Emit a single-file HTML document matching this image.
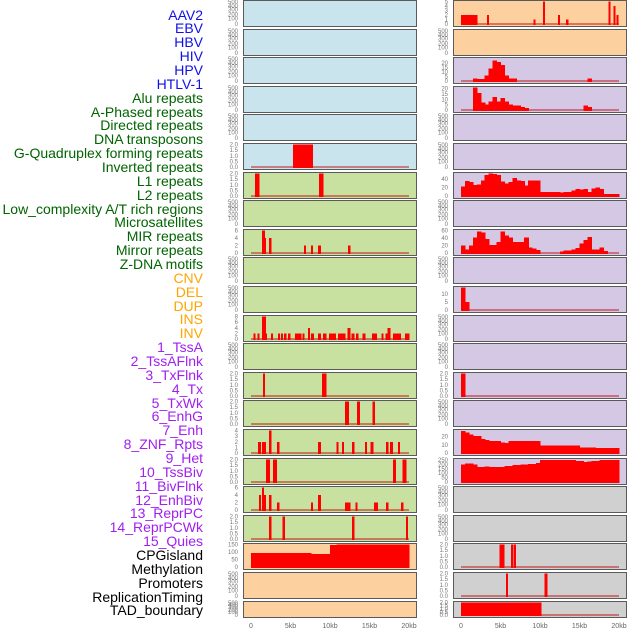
<!DOCTYPE html>
<html><head><meta charset="utf-8">
<style>
html,body{margin:0;padding:0;background:#fff;}
#wrap{position:relative;width:630px;height:630px;overflow:hidden;}
.lab{position:absolute;right:427px;font-family:"Liberation Sans",sans-serif;font-size:14px;line-height:14px;white-space:nowrap;}
svg{position:absolute;left:0;top:0;}
</style></head>
<body>
<div id="wrap">
<svg id="svg" width="630" height="630"></svg>
</div>
<script>
const trackLabels=["AAV2","EBV","HBV","HIV","HPV","HTLV-1","Alu repeats","A-Phased repeats","Directed repeats","DNA transposons","G-Quadruplex forming repeats","Inverted repeats","L1 repeats","L2 repeats","Low_complexity A/T rich regions","Microsatellites","MIR repeats","Mirror repeats","Z-DNA motifs","CNV","DEL","DUP","INS","INV","1_TssA","2_TssAFlnk","3_TxFlnk","4_Tx","5_TxWk","6_EnhG","7_Enh","8_ZNF_Rpts","9_Het","10_TssBiv","11_BivFlnk","12_EnhBiv","13_ReprPC","14_ReprPCWk","15_Quies","CPGisland","Methylation","Promoters","ReplicationTiming","TAD_boundary"];
const xTickLabels=["0","5kb","10kb","15kb","20kb"];
const xTickValues=[0,5,10,15,20];
const emptyTicks=[0,100,200,300,400,500];
const ticks2=[0,0.5,1,1.5,2];
const segHTLV1=[[5.3,7.8,2]];
const segAlu=[[0.5,1.0,2],[8.6,9.1,2]];
const segLowComplexity=[[1.4,1.7,6],[1.7,1.8,4],[2.3,2.5,4],[6.7,6.9,2],[7.6,7.8,2],[8.5,8.8,2],[12.3,12.5,2]];
const segL1=[[0.3,0.5,2],[0.8,1.0,2],[1.4,1.8,8],[1.8,1.9,2],[2.5,2.7,2],[3.4,3.6,2],[3.8,4.0,2],[4.2,4.4,2],[4.7,4.9,2],[5.6,6.3,2],[6.5,6.7,2],[7.2,7.4,4],[7.6,7.9,2],[8.5,8.8,2],[9.1,9.5,2],[9.9,10.7,2],[11.0,11.9,2],[12.2,12.5,4],[12.7,13.0,2],[13.3,13.5,2],[14.1,14.4,2],[15.3,15.9,2],[16.5,16.7,2],[17.0,17.3,2],[17.3,17.6,4],[18.0,18.9,2],[19.5,20.0,2]];
const segMicro=[[1.5,1.7,2],[9.0,9.5,2]];
const segMIR=[[11.9,12.3,2],[13.4,13.7,2],[15.4,15.6,2]];
const segMirror=[[0.9,1.2,2],[1.4,1.8,2],[2.3,2.5,4],[3.3,3.5,2],[8.5,8.8,2],[10.8,11.0,2],[11.5,11.7,2],[12.8,13.0,2],[14.4,14.6,2],[15.1,15.4,2],[17.1,17.3,2],[17.6,17.9,2],[18.6,18.8,2]];
const segZDNA=[[1.9,2.3,2],[2.8,3.2,2],[18.0,18.3,2],[19.2,19.6,2]];
const segCNV=[[1.0,1.2,4],[1.4,1.6,6],[1.6,1.8,4],[2.3,2.5,4],[3.3,3.5,2],[7.6,7.8,2],[8.5,8.8,4],[11.9,12.5,2],[13.2,13.4,2],[15.6,16.0,2],[17.1,17.3,2],[19.0,19.2,2]];
const segDEL=[[2.3,2.5,2],[4.0,4.2,2],[12.8,13.0,2],[19.6,19.8,2]];
const segDUP=[[0,7.6,95],[7.6,10.0,86],[10.0,10.8,148],[10.8,20.0,150]];
const segINS=[[0,2.0,2],[3.3,3.4,2],[9.2,9.3,1],[10.4,10.5,5],[12.3,12.4,2],[13.3,13.5,1],[18.7,18.8,5],[19.3,19.4,4],[19.7,19.8,2]];
const segBivFlnk=[[0,0.5,2]];
const segPromoters=[[4.85,5.4,2],[6.35,6.55,2],[6.7,6.9,2]];
const segRepTiming=[[5.7,5.9,2],[10.6,10.85,2]];
const segTAD=[[0,10.1,2]];
const binTssA=[0,0,0,3,2,2,6,14,23,21,18,6,3,3,0,0,0,0,0,0,0,0,0,0,0,0,0,0,0,0,0,0,3,0,0,0,0,0,0,0];
const binTssAFlnk=[0,0,0,21,16,7,5,8,12,8,11,8,5,4,4,3,2,0,0,0,0,0,0,0,0,0,0,0,0,0,0,4,3,0,0,0,0,0,0,0];
const binTxWk=[22,35,33,26,27,36,50,53,52,50,34,30,33,42,36,35,25,37,37,37,10,10,10,10,10,8,9,10,13,16,15,17,9,18,20,16,5,5,5,5];
const binEnh=[20,9,20,42,57,55,38,21,22,30,58,47,42,29,30,30,42,15,12,8,0,0,0,0,0,4,7,7,9,14,25,35,43,10,9,15,5,0,0,0];
const binHet=[14,5,0,0,0,0,0,0,0,0,0,0,0,0,0,0,0,0,0,0,0,0,0,0,0,0,0,0,0,0,0,0,0,0,0,0,0,0,0,0];
const binReprPCWk=[27,25,23,21,21,17,16,15,15,15,13,12,15,15,15,15,15,15,15,15,9,9,9,9,9,9,9,9,9,9,7,7,7,7,6,6,6,6,6,6];
const binQuies=[200,210,210,200,168,172,174,170,170,170,170,180,180,190,195,200,200,205,205,215,250,250,250,250,250,250,250,250,250,240,238,228,230,240,240,250,250,250,250,250];

const C={blue:"#c9e4ec",green:"#c8e0a0",peach:"#fdd0a0",lav:"#d5c8e4",grey:"#d0d0d0"};
const left=[
 {bg:C.blue},{bg:C.blue},{bg:C.blue},{bg:C.blue},{bg:C.blue},
 {bg:C.blue,seg:segHTLV1,max:2,ticks:ticks2},
 {bg:C.green,seg:segAlu,max:2,ticks:ticks2},
 {bg:C.green},
 {bg:C.green,seg:segLowComplexity,max:6,ticks:[0,2,4,6]},
 {bg:C.green},{bg:C.green},
 {bg:C.green,seg:segL1,max:8,ticks:[0,2,4,6,8]},
 {bg:C.green},
 {bg:C.green,seg:segMicro,max:2,ticks:ticks2},
 {bg:C.green,seg:segMIR,max:2,ticks:ticks2},
 {bg:C.green,seg:segMirror,max:4,ticks:[0,1,2,3,4]},
 {bg:C.green,seg:segZDNA,max:2,ticks:ticks2},
 {bg:C.green,seg:segCNV,max:6,ticks:[0,2,4,6]},
 {bg:C.green,seg:segDEL,max:2,ticks:ticks2},
 {bg:C.peach,seg:segDUP,max:150,ticks:[0,50,100,150]},
 {bg:C.peach},{bg:C.peach,h:16}
];
const right=[
 {bg:C.peach,seg:segINS,max:5,ticks:[0,1,2,3,4,5]},
 {bg:C.peach},
 {bg:C.lav,bin:binTssA,max:25,ticks:[0,5,10,15,20]},
 {bg:C.lav,bin:binTssAFlnk,max:21,ticks:[0,5,10,15,20]},
 {bg:C.lav},{bg:C.lav},
 {bg:C.lav,bin:binTxWk,max:53,ticks:[0,20,40]},
 {bg:C.lav},
 {bg:C.lav,bin:binEnh,max:60,ticks:[0,20,40,60]},
 {bg:C.lav},
 {bg:C.lav,bin:binHet,max:14,ticks:[0,5,10]},
 {bg:C.lav},{bg:C.lav},
 {bg:C.lav,seg:segBivFlnk,max:2,ticks:ticks2},
 {bg:C.lav},
 {bg:C.lav,bin:binReprPCWk,max:27.6,ticks:[0,10,20]},
 {bg:C.lav,bin:binQuies,max:255,ticks:[0,50,100,150,200,250]},
 {bg:C.grey},{bg:C.grey},
 {bg:C.grey,seg:segPromoters,max:2,ticks:ticks2},
 {bg:C.grey,seg:segRepTiming,max:2,ticks:ticks2},
 {bg:C.grey,seg:segTAD,max:2,ticks:ticks2,h:16}
];
const emptyFrac=[0,0.25,0.42,0.65,0.8,0.98];
const NS="http://www.w3.org/2000/svg";
const svg=document.getElementById('svg');
function mk(tag,attrs,parent){const e=document.createElementNS(NS,tag);for(const k in attrs)e.setAttribute(k,attrs[k]);(parent||svg).appendChild(e);return e;}
function xScale(col,kb){return (col===0?251:461)+kb*7.9;}
function fmt(v,t){return t===ticks2?v.toFixed(1):String(v);}
function drawPanel(p,col,row,name){
 const top=Math.round(row*28.6), h=p.h||26, bx=col===0?243:453;
 const g=mk('g',{});
 
 
 const bg=mk('rect',{x:bx+0.5,y:top+0.5,width:173,height:h,fill:p.bg,stroke:'#5a5a5a','stroke-width':1},g);
 
 
 const y0=top+h-2, yt=top+1.5;
 const tx=col===0?238:448;
 if(!p.max){
  emptyTicks.forEach((v,i)=>{
   const t=mk('text',{x:tx,y:y0-emptyFrac[i]*(y0-yt)+2,'font-size':6,fill:'#777','text-anchor':'end','font-family':'Liberation Sans, sans-serif'},g);
   t.textContent=v;
   
   
  });
  return;
 }
 const ys=v=>y0-Math.min(v,p.max)/p.max*(y0-yt);
 p.ticks.forEach(v=>{
  const t=mk('text',{x:tx,y:ys(v)+2,'font-size':6,fill:'#777','text-anchor':'end','font-family':'Liberation Sans, sans-serif'},g);
  t.textContent=fmt(v,p.ticks);
  
  
 });
 const base=mk('line',{x1:xScale(col,0),x2:xScale(col,20),y1:y0,y2:y0,stroke:'rgba(190,0,0,0.45)','stroke-width':2},g);
 
 
 const marks=[];
 if(p.seg)p.seg.forEach(s=>marks.push(s));
 if(p.bin)p.bin.forEach((v,i)=>{if(v>0)marks.push([i*0.5,(i+1)*0.5,v]);});
 marks.forEach(s=>{
  const x1=xScale(col,s[0]),x2=xScale(col,s[1]);
  const r=mk('rect',{x:x1,y:ys(s[2]),width:Math.max(1.2,x2-x1)+0.6,height:y0-ys(s[2])+1,fill:'#ff0000','shape-rendering':'crispEdges'},g);
  
  
 });
}
left.forEach((p,i)=>drawPanel(p,0,i,trackLabels[i].toLowerCase().replace(/[^a-z0-9]+/g,'-')));
right.forEach((p,i)=>drawPanel(p,1,i,trackLabels[22+i].toLowerCase().replace(/[^a-z0-9]+/g,'-')));
[0,1].forEach(col=>{
 xTickValues.forEach((v,i)=>{
  const t=mk('text',{x:xScale(col,v),y:628,'font-size':7,fill:'#666','text-anchor':'middle','font-family':'Liberation Sans, sans-serif'});
  t.textContent=xTickLabels[i];
  
  
 });
});
const colors=[];
trackLabels.forEach((l,i)=>colors.push(i<6?'#1010e8':i<19?'#006400':i<24?'#ffa500':i<39?'#a020f0':'#000'));
const wrap=document.getElementById('wrap');
trackLabels.forEach((l,i)=>{
 const d=document.createElement('div');
 d.className='lab';
 d.style.top=(15+i*13.86-7.5)+'px';
 d.style.color=colors[i];
 d.textContent=l;
 
 
 wrap.appendChild(d);
});
</script>
</body></html>
